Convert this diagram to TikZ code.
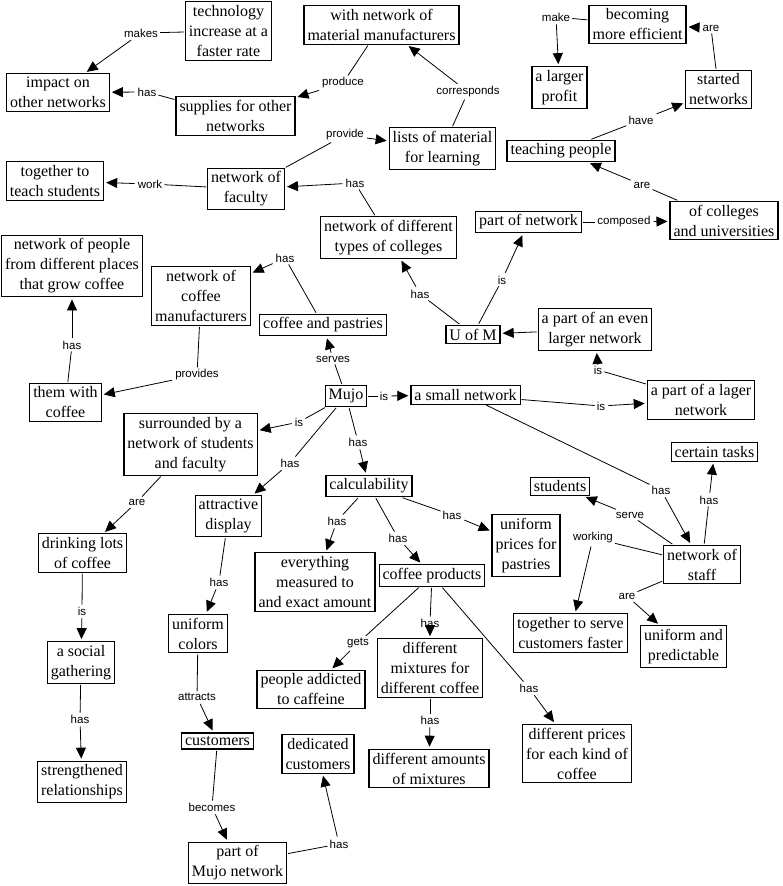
\documentclass[tikz,border=0pt]{standalone}
\usepackage{fontspec}
\setmainfont{Liberation Serif}
\newfontfamily\linkfont{Liberation Sans}
\usetikzlibrary{arrows.meta}

\tikzset{
  concept/.style={draw, line width=1.2pt, align=center, inner sep=3.5pt,
    font=\fontsize{16}{20}\selectfont},
  linkword/.style={inner sep=2pt, font=\linkfont\fontsize{11.5}{13}\selectfont},
  link/.style={line width=0.8pt, shorten <=1pt},
  linkto/.style={link, -{Triangle[length=11pt,width=10pt]}, shorten >=2pt},
}

\begin{document}
\begin{tikzpicture}[x=1pt, y=-1pt]
\useasboundingbox (0,0) rectangle (782,886);
% concepts, top to bottom
\node[concept] (tech) at (228.5,31) {technology\\increase at a\\faster rate};
\node[concept] (withnet) at (381.5,25) {with network of\\material manufacturers};
\node[concept] (becoming) at (637.5,24.5) {becoming\\more efficient};
\node[concept] (profit) at (559.5,87.5) {a larger\\profit};
\node[concept] (started) at (718.5,89.5) {started\\networks};
\node[concept] (impact) at (58,92.5) {impact on\\other networks};
\node[concept] (supplies) at (235.5,116) {supplies for other\\networks};
\node[concept] (lists) at (442.5,148.5) {lists of material\\for learning};
\node[concept] (teaching) at (561,151) {teaching people};
\node[concept] (together) at (55,181) {together to\\teach students};
\node[concept] (faculty) at (246,189) {network of\\faculty};
\node[concept] (colleges) at (724,220.5) {of colleges\\and universities};
\node[concept] (types) at (388.5,237.5) {network of different\\types of colleges};
\node[concept] (partnet) at (528.5,222) {part of network};
\node[concept] (people) at (72,266) {network of people\\from different places\\that grow coffee};
\node[concept] (manuf) at (201,296) {network of\\coffee\\manufacturers};
\node[concept] (pastries) at (323,325) {coffee and pastries};
\node[concept] (uofm) at (473,334.5) {U of M};
\node[concept] (evenlarger) at (595,329.5) {a part of an even\\larger network};
\node[concept] (them) at (65.5,402.5) {them with\\coffee};
\node[concept] (mujo) at (346,396) {Mujo};
\node[concept] (small) at (465.5,395) {a small network};
\node[concept] (lager) at (701,400) {a part of a lager\\network};
\node[concept] (surrounded) at (190.5,444.5) {surrounded by a\\network of students\\and faculty};
\node[concept] (tasks) at (714.5,452) {certain tasks};
\node[concept] (students) at (560,486.5) {students};
\node[concept] (calc) at (369,486) {calculability};
\node[concept] (attractive) at (228.5,516) {attractive\\display};
\node[concept] (drinking) at (82.5,553) {drinking lots\\of coffee};
\node[concept] (pastryprices) at (526,545.5) {uniform\\prices for\\pastries};
\node[concept] (staff) at (702,564.5) {network of\\staff};
\node[concept] (everything) at (315,582) {everything\\measured to\\and exact amount};
\node[concept] (products) at (432,575.5) {coffee products};
\node[concept] (serving) at (570.5,633) {together to serve\\customers faster};
\node[concept] (predictable) at (683.5,646.5) {uniform and\\predictable};
\node[concept] (colors) at (198,633.5) {uniform\\colors};
\node[concept] (social) at (81,662.5) {a social\\gathering};
\node[concept] (addicted) at (311,689.5) {people addicted\\to caffeine};
\node[concept] (mixtures) at (430,668) {different\\mixtures for\\different coffee};
\node[concept] (customers) at (217.5,741) {customers};
\node[concept] (dedicated) at (318,754) {dedicated\\customers};
\node[concept] (amounts) at (429,768.5) {different amounts\\of mixtures};
\node[concept] (prices) at (577,753.5) {different prices\\for each kind of\\coffee};
\node[concept] (strengthened) at (82,782) {strengthened\\relationships};
\node[concept] (mujonet) at (237.5,863) {part of\\Mujo network};
% linking words
\node[linkword] (makes) at (141,33) {makes};
\node[linkword] (hasimp) at (147,92) {has};
\node[linkword] (produce) at (343,83) {produce};
\node[linkword] (corresp) at (468,92) {corresponds};
\node[linkword] (make) at (556,17) {make};
\node[linkword] (arestart) at (711,28) {are};
\node[linkword] (have) at (641,120) {have};
\node[linkword] (provide) at (345,135) {provide};
\node[linkword] (work) at (150,184) {work};
\node[linkword] (hasfac) at (355,183) {has};
\node[linkword] (areteach) at (642,185) {are};
\node[linkword] (composed) at (624,222) {composed};
\node[linkword] (hasmanuf) at (285,258) {has};
\node[linkword] (hastypes) at (420,294) {has};
\node[linkword] (ispart) at (502,280) {is};
\node[linkword] (haspeople) at (72,345) {has};
\node[linkword] (serves) at (333,359) {serves};
\node[linkword] (provides) at (197,375) {provides};
\node[linkword] (issmall) at (384,396) {is};
\node[linkword] (issurr) at (299,422) {is};
\node[linkword] (hascalc) at (358,442) {has};
\node[linkword] (hasattr) at (290,463) {has};
\node[linkword] (iseven) at (598,370) {is};
\node[linkword] (islager) at (601,406) {is};
\node[linkword] (hasstaff) at (661,490) {has};
\node[linkword] (hastasks) at (709,500) {has};
\node[linkword] (serve) at (630,515) {serve};
\node[linkword] (working) at (593,538) {working};
\node[linkword] (aredrink) at (137,502) {are};
\node[linkword] (hasprice) at (452,515) {has};
\node[linkword] (haseverything) at (337,521) {has};
\node[linkword] (hasprod) at (398,538) {has};
\node[linkword] (hascolors) at (219,582) {has};
\node[linkword] (arepred) at (627,596) {are};
\node[linkword] (issocial) at (82,611) {is};
\node[linkword] (gets) at (358,643) {gets};
\node[linkword] (hasmix) at (430,623) {has};
\node[linkword] (hasdiff) at (529,688) {has};
\node[linkword] (attracts) at (197,697) {attracts};
\node[linkword] (hasstrength) at (80,719) {has};
\node[linkword] (hasamount) at (430,720) {has};
\node[linkword] (becomes) at (212,807) {becomes};
\node[linkword] (hasded) at (339,844) {has};
% propositions: source / linking word / target
\foreach \s/\w/\t in {tech/makes/impact, supplies/hasimp/impact,
    withnet/produce/supplies, lists/corresp/withnet, becoming/make/profit,
    started/arestart/becoming, teaching/have/started, faculty/provide/lists,
    faculty/work/together, types/hasfac/faculty, colleges/areteach/teaching,
    partnet/composed/colleges, pastries/hasmanuf/manuf, uofm/hastypes/types,
    uofm/ispart/partnet, them/haspeople/people, mujo/serves/pastries,
    manuf/provides/them, mujo/issmall/small, mujo/issurr/surrounded,
    mujo/hascalc/calc, mujo/hasattr/attractive, lager/iseven/evenlarger,
    small/islager/lager, small/hasstaff/staff, staff/hastasks/tasks,
    staff/serve/students, staff/working/serving, surrounded/aredrink/drinking,
    calc/hasprice/pastryprices, calc/haseverything/everything,
    calc/hasprod/products, attractive/hascolors/colors, staff/arepred/predictable,
    drinking/issocial/social, products/gets/addicted, products/hasmix/mixtures,
    products/hasdiff/prices, colors/attracts/customers,
    social/hasstrength/strengthened, mixtures/hasamount/amounts,
    customers/becomes/mujonet, mujonet/hasded/dedicated}
  {\draw[link] (\s) -- (\w); \draw[linkto] (\w) -- (\t);}
\draw[linkto] (evenlarger) -- (uofm);
\end{tikzpicture}
\end{document}
